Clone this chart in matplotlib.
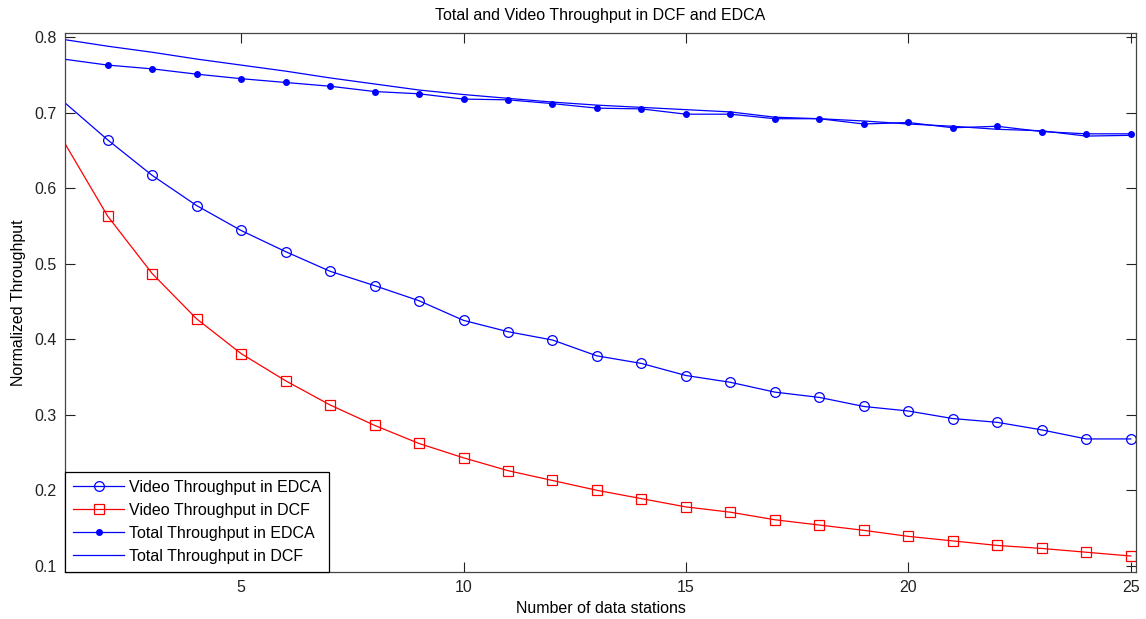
import matplotlib
matplotlib.use("Agg")
import matplotlib.pyplot as plt

plt.rcParams['font.family'] = ['Liberation Sans', 'DejaVu Sans']

stations = list(range(1, 26))

video_edca = [0.715, 0.664, 0.617, 0.577, 0.544, 0.516, 0.490, 0.471, 0.451, 0.425,
              0.410, 0.399, 0.378, 0.368, 0.352, 0.343, 0.330, 0.323, 0.311, 0.305,
              0.295, 0.290, 0.280, 0.268, 0.268]
video_dcf = [0.663, 0.563, 0.487, 0.427, 0.381, 0.345, 0.313, 0.286, 0.262, 0.243,
             0.226, 0.213, 0.200, 0.189, 0.178, 0.171, 0.161, 0.154, 0.147, 0.139,
             0.133, 0.127, 0.123, 0.118, 0.113]
total_edca = [0.771, 0.763, 0.758, 0.751, 0.745, 0.740, 0.735, 0.728, 0.725, 0.718,
              0.717, 0.712, 0.706, 0.705, 0.698, 0.698, 0.692, 0.692, 0.685, 0.687,
              0.680, 0.682, 0.675, 0.672, 0.672]
total_dcf = [0.797, 0.788, 0.780, 0.771, 0.763, 0.755, 0.746, 0.738, 0.730, 0.724,
             0.719, 0.714, 0.710, 0.707, 0.704, 0.701, 0.694, 0.692, 0.689, 0.685,
             0.682, 0.678, 0.676, 0.669, 0.670]

labels = ['Video Throughput in EDCA', 'Video Throughput in DCF',
          'Total Throughput in EDCA', 'Total Throughput in DCF']

x_ticks = [5, 10, 15, 20, 25]
y_ticks = [0.1, 0.2, 0.3, 0.4, 0.5, 0.6, 0.7, 0.8]

fig = plt.figure(figsize=(11.46, 6.19), dpi=100)
ax = fig.add_axes([0.0567, 0.0759, 0.9346, 0.8708])

blue = '#0000ff'
red = '#ff0000'
skip_first = slice(1, None)

ax.plot(stations, video_edca, color=blue, lw=0.9, marker='o', ms=7,
        mfc='none', mec=blue, mew=0.9, markevery=skip_first, label=labels[0])
ax.plot(stations, video_dcf, color=red, lw=0.9, marker='s', ms=7.5,
        mfc='none', mec=red, mew=0.9, markevery=skip_first, label=labels[1])
ax.plot(stations, total_edca, color=blue, lw=0.9, marker='.', ms=8,
        mfc=blue, mec=blue, markevery=skip_first, label=labels[2])
ax.plot(stations, total_dcf, color=blue, lw=0.9, label=labels[3])

ax.set_xlim(1.04, 25.12)
ax.set_ylim(0.0918, 0.8055)
ax.set_xticks(x_ticks)
ax.set_yticks(y_ticks)
ax.set_yticklabels([f'{v:.1f}' for v in y_ticks])

ax.tick_params(direction='in', length=7, width=0.8, top=True, right=True,
               labelsize=11.5, colors='#222222', pad=6)
for sp in ax.spines.values():
    sp.set_color('#444444')
    sp.set_linewidth(0.9)

ax.set_xlabel('Number of data stations', fontsize=11.5, labelpad=4)
ax.set_ylabel('Normalized Throughput', fontsize=11.5, labelpad=6)
ax.set_title('Total and Video Throughput in DCF and EDCA', fontsize=11.5, pad=9)

leg = ax.legend(loc='lower left', borderaxespad=0.0, fontsize=11.5,
                handlelength=3.2, handletextpad=0.3, borderpad=0.5,
                labelspacing=0.5, fancybox=False, framealpha=1)
leg.get_frame().set_edgecolor('black')
leg.get_frame().set_linewidth(0.9)

fig.savefig('out.png', dpi=100)
